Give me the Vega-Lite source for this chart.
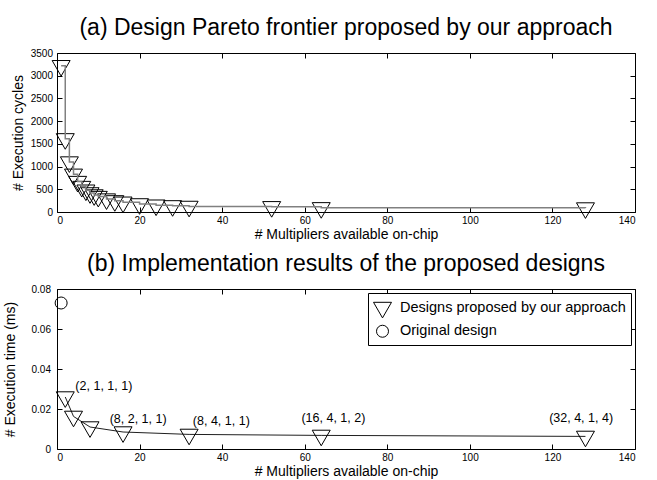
{
  "$schema": "https://vega.github.io/schema/vega-lite/v6.json",
  "background": "white",
  "padding": {"left": 3, "top": 16, "right": 5, "bottom": 0},
  "config": {
    "font": "Liberation Sans",
    "view": {"stroke": "black", "strokeWidth": 1},
    "axis": {
      "domain": false,
      "grid": false,
      "tickColor": "black",
      "tickSize": -5,
      "labelColor": "black",
      "labelFontSize": 10,
      "labelPadding": 9,
      "titleColor": "black",
      "titleFontSize": 14,
      "titleFontWeight": "normal"
    },
    "axisX": {"labelPadding": 8, "titlePadding": 2},
    "title": {"fontSize": 23, "fontWeight": "normal", "color": "black", "offset": 8},
    "legend": {
      "orient": "top-right",
      "offset": 4,
      "strokeColor": "black",
      "fillColor": "white",
      "padding": 5,
      "rowPadding": 3,
      "labelFontSize": 14.5,
      "labelColor": "black",
      "labelOffset": 8,
      "labelLimit": 400,
      "symbolStrokeWidth": 1
    },
    "concat": {"spacing": 10}
  },
  "resolve": {"scale": {"shape": "independent", "size": "independent"}, "legend": {"shape": "independent", "size": "independent"}},
  "datasets": {
    "frontier": [
      {"multipliers": 1, "cycles": 3220},
      {"multipliers": 2, "cycles": 1610},
      {"multipliers": 3, "cycles": 1100},
      {"multipliers": 4, "cycles": 830},
      {"multipliers": 5, "cycles": 670},
      {"multipliers": 6, "cycles": 560},
      {"multipliers": 7, "cycles": 480},
      {"multipliers": 8, "cycles": 420},
      {"multipliers": 9, "cycles": 375},
      {"multipliers": 10, "cycles": 340},
      {"multipliers": 12, "cycles": 285},
      {"multipliers": 14, "cycles": 245},
      {"multipliers": 16, "cycles": 215},
      {"multipliers": 20, "cycles": 178},
      {"multipliers": 24, "cycles": 150},
      {"multipliers": 28, "cycles": 135},
      {"multipliers": 32, "cycles": 122},
      {"multipliers": 52, "cycles": 115},
      {"multipliers": 64, "cycles": 92},
      {"multipliers": 128, "cycles": 88}
    ],
    "designs": [
      {"series": "Designs proposed by our approach", "multipliers": 2, "time_ms": 0.026},
      {"series": "Designs proposed by our approach", "multipliers": 4, "time_ms": 0.0163},
      {"series": "Designs proposed by our approach", "multipliers": 8, "time_ms": 0.011},
      {"series": "Designs proposed by our approach", "multipliers": 16, "time_ms": 0.0085},
      {"series": "Designs proposed by our approach", "multipliers": 32, "time_ms": 0.0073},
      {"series": "Designs proposed by our approach", "multipliers": 64, "time_ms": 0.0068},
      {"series": "Designs proposed by our approach", "multipliers": 128, "time_ms": 0.0063},
      {"series": "Original design", "multipliers": 1, "time_ms": 0.073}
    ],
    "notes": [
      {"config": "(2, 1, 1, 1)", "at_mult": 4.45, "at_time": 0.0313},
      {"config": "(8, 2, 1, 1)", "at_mult": 12.75, "at_time": 0.015},
      {"config": "(8, 4, 1, 1)", "at_mult": 32.9, "at_time": 0.0138},
      {"config": "(16, 4, 1, 2)", "at_mult": 59.2, "at_time": 0.0155},
      {"config": "(32, 4, 1, 4)", "at_mult": 119.2, "at_time": 0.0155}
    ]
  },
  "vconcat": [
    {
      "title": "(a) Design Pareto frontier proposed by our approach",
      "width": 578,
      "height": 159,
      "data": {"name": "frontier"},
      "layer": [
        {
          "mark": {"type": "point", "shape": "M-1,-0.577L1,-0.577L0,1.155Z", "size": 324, "filled": false, "color": "black", "strokeWidth": 1, "opacity": 1},
          "encoding": {
            "x": {"field": "multipliers", "type": "quantitative", "scale": {"domain": [0, 140], "nice": false},
                  "axis": {"values": [0, 20, 40, 60, 80, 100, 120, 140], "title": "# Multipliers available on-chip"}},
            "y": {"field": "cycles", "type": "quantitative", "scale": {"domain": [0, 3500], "nice": false},
                  "axis": {"values": [0, 500, 1000, 1500, 2000, 2500, 3000, 3500], "format": "d", "labelPadding": 9.5,
                           "titleX": -39, "titleBaseline": "middle", "title": "# Execution cycles"}}
          }
        },
        {
          "mark": {"type": "line", "interpolate": "step-after", "color": "#808080", "strokeWidth": 1.5},
          "encoding": {
            "x": {"field": "multipliers", "type": "quantitative",
                  "axis": {"orient": "top", "values": [0, 20, 40, 60, 80, 100, 120, 140], "labels": false, "title": null}},
            "y": {"field": "cycles", "type": "quantitative",
                  "axis": {"orient": "right", "values": [0, 500, 1000, 1500, 2000, 2500, 3000, 3500], "labels": false, "title": null}}
          }
        }
      ],
      "resolve": {"axis": {"x": "independent", "y": "independent"}}
    },
    {
      "title": "(b) Implementation results of the proposed designs",
      "width": 578,
      "height": 160,
      "layer": [
        {
          "data": {"name": "designs"},
          "transform": [{"filter": "datum.series === 'Designs proposed by our approach'"}],
          "mark": {"type": "line", "color": "#202020", "strokeWidth": 1},
          "encoding": {
            "x": {"field": "multipliers", "type": "quantitative", "scale": {"domain": [0, 140], "nice": false},
                  "axis": {"orient": "top", "values": [0, 20, 40, 60, 80, 100, 120, 140], "labels": false, "title": null}},
            "y": {"field": "time_ms", "type": "quantitative", "scale": {"domain": [0, 0.08], "nice": false},
                  "axis": {"orient": "right", "values": [0, 0.02, 0.04, 0.06, 0.08], "labels": false, "title": null}}
          }
        },
        {
          "data": {"name": "designs"},
          "mark": {"type": "point", "filled": false, "color": "black", "strokeWidth": 1, "opacity": 1},
          "encoding": {
            "x": {"field": "multipliers", "type": "quantitative",
                  "axis": {"values": [0, 20, 40, 60, 80, 100, 120, 140], "title": "# Multipliers available on-chip"}},
            "y": {"field": "time_ms", "type": "quantitative",
                  "axis": {"values": [0, 0.02, 0.04, 0.06, 0.08], "format": ".2~f", "labelPadding": 11.5,
                           "titleX": -46.5, "titleBaseline": "middle", "title": "# Execution time (ms)"}},
            "shape": {
              "field": "series", "type": "nominal",
              "scale": {"domain": ["Designs proposed by our approach", "Original design"], "range": ["M-1,-0.577L1,-0.577L0,1.155Z", "circle"]},
              "legend": {
                "title": null,
                "encode": {
                  "symbols": {
                    "shape": {"signal": "datum.value === 'Original design' ? 'circle' : 'M-1.4,-0.35H1.4M-1,-0.577L1,-0.577L0,1.155Z'"}
                  }
                }
              }
            },
            "size": {
              "field": "series", "type": "nominal",
              "scale": {"domain": ["Designs proposed by our approach", "Original design"], "range": [324, 144]},
              "legend": {
                "title": null,
                "encode": {
                  "symbols": {
                    "shape": {"signal": "datum.value === 'Original design' ? 'circle' : 'M-1.4,-0.35H1.4M-1,-0.577L1,-0.577L0,1.155Z'"}
                  }
                }
              }
            }
          }
        },
        {
          "data": {"name": "notes"},
          "mark": {"type": "text", "align": "left", "baseline": "middle", "fontSize": 12.5, "color": "black"},
          "encoding": {
            "x": {"field": "at_mult", "type": "quantitative", "axis": null},
            "y": {"field": "at_time", "type": "quantitative", "axis": null},
            "text": {"field": "config"}
          }
        }
      ],
      "resolve": {"axis": {"x": "independent", "y": "independent"}}
    }
  ]
}
